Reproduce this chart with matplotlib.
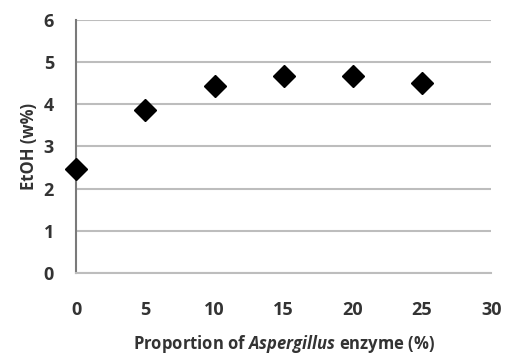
import matplotlib.pyplot as plt

proportion = [0, 5, 10, 15, 20, 25]
etoh = [2.47, 3.86, 4.42, 4.68, 4.67, 4.50]
etoh_err = [0.08, 0.22, 0.15, 0.07, 0.07, 0.08]
xticks = [0, 5, 10, 15, 20, 25, 30]
yticks = [0, 1, 2, 3, 4, 5, 6]

plt.rcParams['font.family'] = ['Open Sans', 'DejaVu Sans']
plt.rcParams['mathtext.fontset'] = 'custom'
plt.rcParams['mathtext.it'] = 'Open Sans:italic:bold'

fig = plt.figure(figsize=(5.08, 3.54), dpi=100)
ax = fig.add_axes([0.150, 0.229, 0.817, 0.715])

ax.errorbar(proportion, etoh, yerr=etoh_err, fmt='D', color='black',
            markersize=11, elinewidth=1.8, capsize=0, zorder=3, clip_on=False)

ax.set_xlim(0, 30)
ax.set_ylim(0, 6)
ax.set_xticks(xticks)
ax.set_yticks(yticks)
ax.tick_params(length=0, labelsize=13, colors='#333333')
ax.tick_params(axis='y', pad=16)
ax.tick_params(axis='x', pad=20)
for lab in ax.get_xticklabels() + ax.get_yticklabels():
    lab.set_fontweight('bold')

ax.grid(axis='y', color='#bdbdbd', linewidth=1.5)
ax.set_axisbelow(True)
for s in ['top', 'right']:
    ax.spines[s].set_visible(False)
ax.spines['left'].set_color('#7a7a7a')
ax.spines['left'].set_linewidth(1.5)
ax.spines['bottom'].set_color('#bdbdbd')
ax.spines['bottom'].set_linewidth(1.5)

ax.set_ylabel('EtOH (w%)', fontsize=12, fontweight='bold', color='#333333', labelpad=4)
ax.set_xlabel(r'Proportion of $Aspergillus$ enzyme (%)', fontsize=12,
              fontweight='bold', color='#333333', labelpad=10)

fig.savefig('out.png', dpi=100)
